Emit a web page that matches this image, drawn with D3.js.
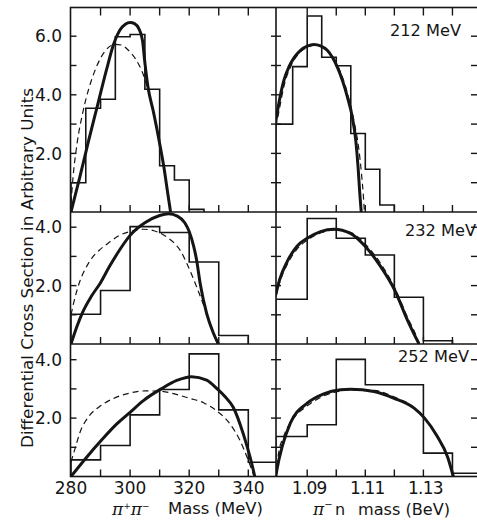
<!DOCTYPE html>
<html><head><meta charset="utf-8">
<script src="https://cdn.jsdelivr.net/npm/d3@7"></script>
<style>body{margin:0;background:#fff} svg{display:block}</style>
</head><body>
<svg id="c" width="477" height="521"></svg>
<script>
// ---------- data ----------
const ppTickLabels = [280, 300, 320, 340];
const pnTickLabels = [1.09, 1.11, 1.13];
const yLabelsTop = [2, 4, 6];
const yLabelsLow = [2, 4];
const energyLabels = ["212 MeV", "232 MeV", "252 MeV"];

// pi+ pi- mass histograms (MeV) and values
const pp212Edges = [280, 285, 290, 295, 300, 305, 310, 315, 320, 325];
const pp212Vals  = [1.0, 3.54, 3.85, 5.98, 6.06, 4.19, 1.58, 1.09, 0.09];
const pp232Edges = [280, 290, 300, 310, 320, 330, 340];
const pp232Vals  = [1.02, 1.83, 4.02, 3.82, 2.81, 0.29];
const pp252Edges = [280, 290, 300, 310, 320, 330, 340, 352];
const pp252Vals  = [0.57, 1.06, 2.11, 2.98, 4.2, 2.28, 0.49];

// pi- n mass histograms (BeV)
const pn212Edges = [1.0792, 1.085, 1.09, 1.095, 1.10, 1.105, 1.11, 1.115, 1.12];
const pn212Vals  = [3.0, 4.96, 6.69, 5.28, 4.99, 2.68, 1.46, 0.24];
const pn232Edges = [1.0792, 1.09, 1.10, 1.11, 1.12, 1.13, 1.14];
const pn232Vals  = [1.53, 4.30, 3.62, 3.05, 1.60, 0.11];
const pn252Edges = [1.0792, 1.09, 1.10, 1.11, 1.12, 1.13, 1.14, 1.16];
const pn252Vals  = [1.37, 1.77, 4.01, 3.14, 3.14, 0.80, 0.11];

// curves [mass, value]
const pp212Solid = [[280,0],[283,1.2],[286,2.45],[289,3.65],[292,4.85],[294.5,5.75],[296.5,6.2],[298.5,6.42],[300,6.47],[301.5,6.43],[303,6.25],[304.2,5.85],[305,5.1],[306,4.3],[308,3.37],[310,2.34],[311.4,1.55],[312.8,0.6],[313.7,0]];
const pp212Dash  = [[280,0.3],[280.7,1.2],[282,2.3],[284,3.4],[286,4.2],[288,4.8],[290,5.25],[292.5,5.6],[295,5.72],[297,5.7],[299.6,5.5],[302,5.2],[304.6,4.65],[306.5,4.0],[308,3.3],[310,2.3],[311.4,1.5],[313,0.5],[313.7,0]];
const pp232Solid = [[280,0],[282,0.6],[284,1.1],[287,1.65],[290,2.1],[293,2.65],[296,3.15],[300,3.72],[305,4.15],[310,4.4],[313,4.46],[316,4.38],[318.5,4.15],[320,3.85],[321.5,3.35],[322.5,2.88],[323.7,2.08],[325.9,1.05],[328.2,0.37],[329.9,0]];
const pp232Dash  = [[280,1.0],[281,1.45],[283,2.15],[285,2.6],[287.5,3.0],[290,3.25],[293.2,3.5],[296,3.7],[300,3.85],[304.5,3.93],[308,3.88],[310.1,3.8],[313,3.62],[315,3.45],[317,3.2],[319.2,2.76],[322.5,1.96],[325.9,1.05],[328,0.45],[329.5,0]];
const pp252Solid = [[280,0],[285.3,0.66],[290.2,1.23],[295.5,1.8],[300,2.2],[304.5,2.6],[310.5,3.0],[315.8,3.29],[320.8,3.42],[325.9,3.3],[329.5,3.0],[332,2.75],[334.9,2.37],[338.3,1.46],[340.6,0.66],[342.2,0]];
const pp252Dash  = [[280,0.5],[281.5,1.0],[283,1.5],[286,2.05],[290,2.42],[295,2.7],[300,2.86],[305,2.93],[310,2.92],[315,2.83],[320,2.68],[325,2.52],[329.3,2.25],[333.8,1.8],[337.2,1.23],[340,0.55],[342,0]];

const pn212Solid = [[1.0792,3.1],[1.0805,3.85],[1.082,4.5],[1.0837,4.95],[1.0855,5.27],[1.0877,5.52],[1.09,5.66],[1.0923,5.72],[1.0946,5.67],[1.0969,5.52],[1.1003,4.96],[1.1038,3.94],[1.1055,3.25],[1.1067,2.46],[1.1075,1.55],[1.1081,0.64],[1.1086,0]];
const pn212Dash  = [[1.0792,2.9],[1.0805,3.55],[1.082,4.3],[1.0845,5.0],[1.0875,5.45],[1.09,5.62],[1.0925,5.7],[1.095,5.65],[1.0975,5.45],[1.1005,5.0],[1.104,4.0],[1.1062,3.05],[1.1077,2.2],[1.1087,1.3],[1.1093,0.6],[1.1097,0]];
const pn232Solid = [[1.0792,1.7],[1.0805,2.2],[1.0831,2.82],[1.0865,3.35],[1.09,3.62],[1.0946,3.85],[1.0992,3.93],[1.1049,3.79],[1.1101,3.33],[1.1153,2.65],[1.1201,1.85],[1.1245,0.82],[1.1285,0]];
const pn232Dash  = [[1.0792,1.6],[1.0805,2.1],[1.083,2.7],[1.0865,3.25],[1.09,3.55],[1.095,3.82],[1.1,3.91],[1.105,3.82],[1.11,3.42],[1.115,2.8],[1.12,1.95],[1.1245,0.92],[1.128,0.15],[1.1285,0]];
const pn252Solid = [[1.0792,0],[1.0797,0.3],[1.0814,1.03],[1.0842,1.83],[1.09,2.51],[1.0957,2.83],[1.1015,2.97],[1.1049,2.99],[1.113,2.91],[1.1199,2.68],[1.1268,2.34],[1.1304,2.0],[1.1348,1.37],[1.1383,0.68],[1.1403,0]];
const pn252Dash  = [[1.0792,0],[1.08,0.7],[1.082,1.4],[1.085,1.95],[1.09,2.42],[1.0957,2.76],[1.1015,2.93],[1.105,2.97],[1.113,2.95],[1.12,2.72],[1.1268,2.36],[1.1304,2.0],[1.1348,1.35],[1.1383,0.66],[1.1403,0]];

// ---------- layout ----------
const svg = d3.select("#c");
const INK = "#151515";
const FONT = "DejaVu Sans, Liberation Sans, sans-serif";
const leftX0 = 70.5, midX = 276, rightX1 = 477;
const xPP = d3.scaleLinear().domain([280, 340]).range([71, 248.3]);
const xPN = d3.scaleLinear().domain([1.09, 1.13]).range([307.2, 423.4]);
const rowDefs = [
  {top: 7.5, bottom: 212, max: 6, unit: 29.3},
  {top: 212, bottom: 344, max: 4, unit: 29.2},
  {top: 344, bottom: 476.5, max: 4, unit: 29.2}
];
rowDefs.forEach(r => r.y = d3.scaleLinear().domain([0, r.max]).range([r.bottom, r.bottom - r.max * r.unit]));

const panels = [
  {row: 0, side: "L", edges: pp212Edges, vals: pp212Vals, solid: pp212Solid, dash: pp212Dash},
  {row: 1, side: "L", edges: pp232Edges, vals: pp232Vals, solid: pp232Solid, dash: pp232Dash},
  {row: 2, side: "L", edges: pp252Edges, vals: pp252Vals, solid: pp252Solid, dash: pp252Dash},
  {row: 0, side: "R", edges: pn212Edges, vals: pn212Vals, solid: pn212Solid, dash: pn212Dash},
  {row: 1, side: "R", edges: pn232Edges, vals: pn232Vals, solid: pn232Solid, dash: pn232Dash},
  {row: 2, side: "R", edges: pn252Edges, vals: pn252Vals, solid: pn252Solid, dash: pn252Dash}
];

const defs = svg.append("defs");
panels.forEach((p, i) => {
  const r = rowDefs[p.row];
  const x0 = p.side === "L" ? leftX0 : midX, x1 = p.side === "L" ? midX : rightX1;
  defs.append("clipPath").attr("id", "clip" + i).append("rect")
    .attr("x", x0).attr("y", r.top - 6).attr("width", x1 - x0).attr("height", r.bottom - r.top + 6);
});

function histPath(edges, vals, x, y) {
  const p = d3.path();
  p.moveTo(x(edges[0]), y(0));
  vals.forEach((v, i) => { p.lineTo(x(edges[i]), y(v)); p.lineTo(x(edges[i + 1]), y(v)); });
  p.lineTo(x(edges[edges.length - 1]), y(0));
  return p.toString();
}

panels.forEach((p, i) => {
  const r = rowDefs[p.row];
  const x = p.side === "L" ? xPP : xPN;
  const g = svg.append("g").attr("clip-path", `url(#clip${i})`);
  g.append("path").attr("d", histPath(p.edges, p.vals, x, r.y))
    .attr("fill", "none").attr("stroke", INK).attr("stroke-width", 1.6);
  const line = d3.line().x(d => x(d[0])).y(d => r.y(d[1])).curve(d3.curveMonotoneX);
  g.append("path").attr("d", line(p.dash)).attr("fill", "none")
    .attr("stroke", INK).attr("stroke-width", 1.2).attr("stroke-dasharray", "6,4");
  g.append("path").attr("d", line(p.solid)).attr("fill", "none")
    .attr("stroke", INK).attr("stroke-width", 3);
});

// ---------- frame ----------
const frame = svg.append("g").attr("stroke", INK).attr("stroke-width", 1.6).attr("fill", "none");
frame.append("rect").attr("x", leftX0).attr("y", rowDefs[0].top)
  .attr("width", rightX1 + 2 - leftX0).attr("height", rowDefs[2].bottom - rowDefs[0].top);
frame.append("line").attr("x1", midX).attr("x2", midX).attr("y1", rowDefs[0].top).attr("y2", rowDefs[2].bottom);
[rowDefs[0].bottom, rowDefs[1].bottom].forEach(yy =>
  frame.append("line").attr("x1", leftX0).attr("x2", rightX1 + 2).attr("y1", yy).attr("y2", yy));

// x ticks
const tk = svg.append("g").attr("stroke", INK).attr("stroke-width", 1.4);
const ppTicks = d3.range(290, 341, 10);
const pnTicks = d3.range(1.09, 1.1401, 0.01);
const xTickPos = ppTicks.map(v => xPP(v)).concat(pnTicks.map(v => xPN(v)));
xTickPos.forEach(px => {
  tk.append("line").attr("x1", px).attr("x2", px).attr("y1", rowDefs[0].top).attr("y2", rowDefs[0].top + 8);
  rowDefs.forEach(r => tk.append("line").attr("x1", px).attr("x2", px).attr("y1", r.bottom).attr("y2", r.bottom - 7));
});
// y ticks
rowDefs.forEach(r => {
  d3.range(1, Math.floor(r.y.invert(r.top)) + 1).forEach(v => {
    const py = r.y(v);
    tk.append("line").attr("x1", leftX0).attr("x2", leftX0 + 6).attr("y1", py).attr("y2", py);
    tk.append("line").attr("x1", midX - 5).attr("x2", midX + 5).attr("y1", py).attr("y2", py);
    tk.append("line").attr("x1", rightX1 - 6).attr("x2", rightX1).attr("y1", py).attr("y2", py);
  });
});

// ---------- text ----------
const txt = svg.append("g").attr("fill", INK).attr("font-family", FONT);
rowDefs.forEach((r, i) => {
  (i === 0 ? yLabelsTop : yLabelsLow).forEach(v => {
    txt.append("text").attr("x", 62).attr("y", r.y(v)).attr("dy", "0.36em")
      .attr("text-anchor", "end").attr("font-size", 17).text(d3.format(".1f")(v));
  });
});
ppTickLabels.forEach(v => txt.append("text").attr("x", xPP(v)).attr("y", 494)
  .attr("text-anchor", "middle").attr("font-size", 17).text(v));
pnTickLabels.forEach(v => txt.append("text").attr("x", xPN(v) + 2).attr("y", 494)
  .attr("text-anchor", "middle").attr("font-size", 17).attr("letter-spacing", -0.8).text(d3.format(".2f")(v)));

const ePos = [[390, 36], [405, 236], [398, 362]];
energyLabels.forEach((t, i) => txt.append("text").attr("x", ePos[i][0]).attr("y", ePos[i][1])
  .attr("font-size", 16).attr("textLength", 71).attr("lengthAdjust", "spacingAndGlyphs").text(t));

// y axis title
txt.append("text").attr("transform", "translate(33,268) rotate(-90)")
  .attr("text-anchor", "middle").attr("font-size", 16)
  .attr("textLength", 360).attr("lengthAdjust", "spacingAndGlyphs")
  .text("Differential Cross Section in Arbitrary Units");

// x axis titles
const t1 = txt.append("text").attr("x", 112).attr("y", 515).attr("font-size", 16);
t1.append("tspan").attr("font-family", "DejaVu Serif, serif").attr("font-style", "italic").attr("font-size", 17).text("π");
t1.append("tspan").attr("font-size", 9).attr("dy", -6).text("+");
t1.append("tspan").attr("font-family", "DejaVu Serif, serif").attr("font-style", "italic").attr("font-size", 17).attr("dy", 6).text("π");
t1.append("tspan").attr("font-size", 9).attr("dy", -6).text("−");
txt.append("text").attr("x", 168).attr("y", 514).attr("font-size", 16)
  .attr("textLength", 95).attr("lengthAdjust", "spacingAndGlyphs").text("Mass (MeV)");

const t2 = txt.append("text").attr("x", 313).attr("y", 515).attr("font-size", 16);
t2.append("tspan").attr("font-family", "DejaVu Serif, serif").attr("font-style", "italic").attr("font-size", 17).text("π");
t2.append("tspan").attr("font-size", 10).attr("dy", -7).text("−");
t2.append("tspan").attr("dy", 7).attr("x", 335).text("n");
txt.append("text").attr("x", 358).attr("y", 515).attr("font-size", 16)
  .attr("textLength", 92).attr("lengthAdjust", "spacingAndGlyphs").text("mass (BeV)");
</script>
</body></html>
